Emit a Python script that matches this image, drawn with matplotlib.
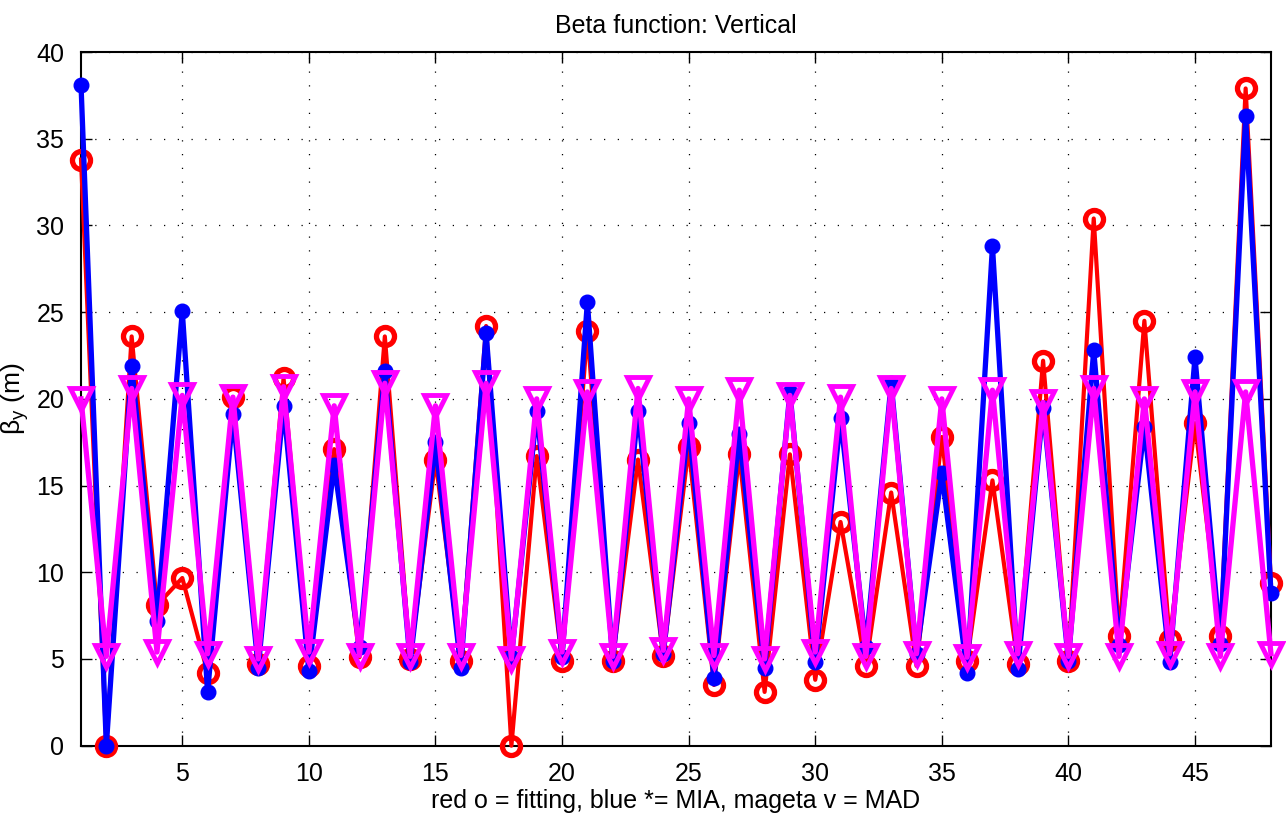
import numpy as np
import matplotlib
matplotlib.use('Agg')
import matplotlib.pyplot as plt

plt.rcParams['font.family'] = ['Liberation Sans', 'DejaVu Sans']
plt.rcParams['mathtext.fontset'] = 'custom'
plt.rcParams['mathtext.rm'] = 'Liberation Sans'
plt.rcParams['mathtext.it'] = 'Liberation Sans'

# BPM index
bpm = list(range(1, 49))
# red o = fitting
fit = [33.8, 0.0, 23.6, 8.1, 9.67, 4.2, 20.1, 4.7, 21.2, 4.6, 17.1, 5.1,
       23.6, 5.0, 16.5, 4.9, 24.2, 0.0, 16.7, 4.9, 23.9, 4.9, 16.5, 5.15,
       17.2, 3.5, 16.8, 3.1, 16.8, 3.8, 12.9, 4.6, 14.6, 4.6, 17.8, 4.9,
       15.3, 4.7, 22.2, 4.9, 30.4, 6.3, 24.5, 6.1, 18.6, 6.3, 37.9, 9.4]
# blue * = MIA
mia = [38.1, 0.0, 21.9, 7.2, 25.05, 3.1, 19.1, 4.5, 19.6, 4.3, 16.2, 5.7,
       21.6, 4.8, 17.5, 4.5, 23.8, 5.1, 19.3, 5.1, 25.6, 4.9, 19.3, 5.3,
       18.6, 3.9, 18.0, 4.5, 20.4, 4.8, 18.9, 5.7, 20.9, 5.3, 15.7, 4.2,
       28.8, 4.4, 19.5, 4.9, 22.8, 5.8, 18.4, 4.8, 22.4, 5.85, 36.3, 8.8]
# magenta v = MAD
mad = [20.0, 5.15, 20.6, 5.4, 20.2, 5.3, 20.1, 5.0, 20.7, 5.4, 19.6, 5.2,
       20.9, 5.15, 19.6, 5.2, 20.9, 5.0, 20.0, 5.4, 20.4, 5.15, 20.6, 5.5,
       20.0, 5.2, 20.5, 5.0, 20.2, 5.4, 20.1, 5.15, 20.6, 5.3, 20.0, 5.1,
       20.5, 5.3, 19.8, 5.15, 20.6, 5.15, 20.0, 5.3, 20.4, 5.15, 20.4, 5.3]

fig = plt.figure(figsize=(12.86, 8.18), dpi=100)
ax = fig.add_axes([0.063, 0.0884, 0.9253, 0.848])

ax.plot(bpm, fit, color='red', lw=3, marker='o', ms=13, mfc='none',
        mew=3.8, clip_on=False, zorder=3)
ax.plot(bpm, mia, color='blue', lw=3.8, marker='o', ms=10.5, mfc='blue',
        mec='blue', clip_on=False, zorder=4)
ax.plot(bpm, mad, color='magenta', lw=3.8, marker='v', ms=16, mfc='none',
        mew=3.5, clip_on=False, zorder=5)

ax.set_xlim(1, 48)
ax.set_ylim(0, 40)
ax.set_xticks([5, 10, 15, 20, 25, 30, 35, 40, 45])
ax.set_yticks(np.arange(0, 41, 5))
ax.grid(True, color='black', linestyle=(0, (1, 10)), linewidth=0.9)
ax.tick_params(direction='in', length=8, width=1, labelsize=18,
               top=True, right=True, pad=12)
for s in ax.spines.values():
    s.set_linewidth(1.5)

ax.set_title('Beta function: Vertical', fontsize=18, pad=14)
ax.set_xlabel('red o = fitting, blue *= MIA, mageta v = MAD', fontsize=18, labelpad=2)
ax.set_ylabel(r'$\mathregular{\beta_y}$ (m)', fontsize=19, labelpad=4)

fig.savefig('out.png', dpi=100)
